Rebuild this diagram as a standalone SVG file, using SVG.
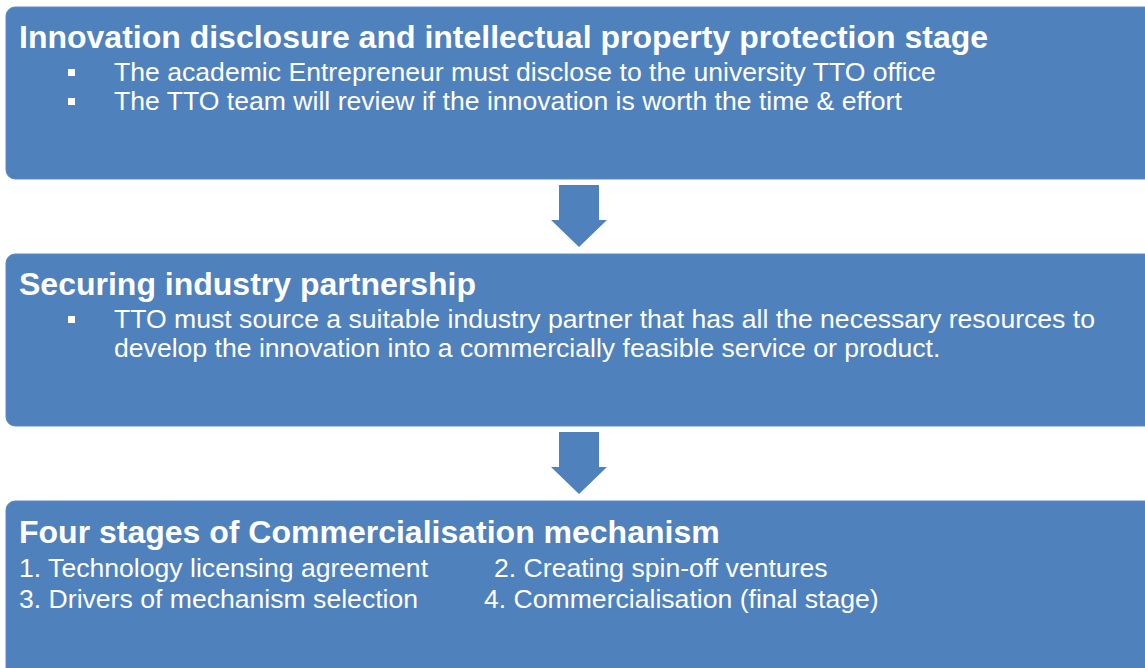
<svg xmlns="http://www.w3.org/2000/svg" width="1145" height="668" viewBox="0 0 1145 668">
  <style>
    .box { fill: #4F81BD; stroke: #5B8BC6; stroke-width: 1; }
    .arrow { fill: #4F81BD; }
    .title { font-family: "Liberation Sans", Arial, sans-serif; font-weight: bold; font-size: 32px; fill: #FFFFFF; }
    .body { font-family: "Liberation Sans", Arial, sans-serif; font-size: 26.6px; fill: #FFFFFF; }
    .bullet { fill: #FFFFFF; }
  </style>
  <rect width="1145" height="668" fill="#FFFFFF"/>

  <g id="connectors">
    <path class="arrow" d="M559,185 H599 V220 H607 L579,247 L551,220 H559 Z"/>
    <path class="arrow" d="M559,432 H599 V467 H607 L579,494 L551,467 H559 Z"/>
  </g>

  <g id="stage-disclosure">
    <rect class="box" x="6" y="7" width="1150" height="172" rx="9"/>
    <text class="title" x="19" y="48">Innovation disclosure and intellectual property protection stage</text>
    <rect class="bullet" x="68" y="69" width="7" height="7"/>
    <text class="body" x="114" y="81">The academic Entrepreneur must disclose to the university TTO office</text>
    <rect class="bullet" x="68" y="98" width="7" height="7"/>
    <text class="body" x="114" y="110">The TTO team will review if the innovation is worth the time &amp; effort</text>
  </g>

  <g id="stage-partnership">
    <rect class="box" x="6" y="254" width="1150" height="172" rx="9"/>
    <text class="title" x="19" y="295">Securing industry partnership</text>
    <rect class="bullet" x="68" y="316" width="7" height="7"/>
    <text class="body" x="114" y="328">TTO must source a suitable industry partner that has all the necessary resources to</text>
    <text class="body" x="114" y="357">develop the innovation into a commercially feasible service or product.</text>
  </g>

  <g id="stage-commercialisation">
    <rect class="box" x="6" y="501" width="1150" height="180" rx="9"/>
    <text class="title" x="19" y="543">Four stages of Commercialisation mechanism</text>
    <text class="body" x="19" y="577">1. Technology licensing agreement</text>
    <text class="body" x="494" y="577">2. Creating spin-off ventures</text>
    <text class="body" x="19" y="608">3. Drivers of mechanism selection</text>
    <text class="body" x="484" y="608">4. Commercialisation (final stage)</text>
  </g>
</svg>
